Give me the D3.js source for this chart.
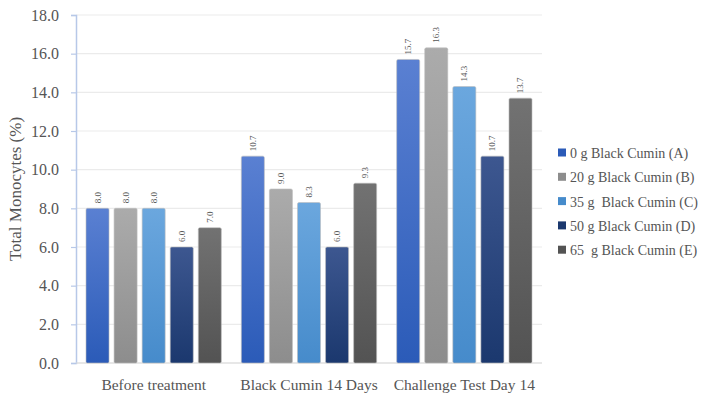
<!DOCTYPE html>
<html>
<head>
<meta charset="utf-8">
<script src="https://cdn.jsdelivr.net/npm/d3@7"></script>
<style>
  html, body { margin: 0; padding: 0; background: #fff; }
  svg text { font-family: "Liberation Serif", "Times New Roman", Tinos, "DejaVu Serif", serif; }
</style>
</head>
<body>
<svg id="chart" width="704" height="400"></svg>
<script>
const categories = ["Before treatment", "Black Cumin 14 Days", "Challenge Test Day 14"];
const seriesNames = ["0 g Black Cumin (A)", "20 g Black Cumin (B)", "35 g  Black Cumin (C)", "50 g Black Cumin (D)", "65  g Black Cumin (E)"];
const seriesA = [8.0, 10.7, 15.7];
const seriesB = [8.0, 9.0, 16.3];
const seriesC = [8.0, 8.3, 14.3];
const seriesD = [6.0, 6.0, 10.7];
const seriesE = [7.0, 9.3, 13.7];
const yTicks = [0, 2, 4, 6, 8, 10, 12, 14, 16, 18];

const seriesValues = [seriesA, seriesB, seriesC, seriesD, seriesE];
const gradStops = [
  ["#5a80d2", "#2b5bb8"],
  ["#ababab", "#8d8d8d"],
  ["#6ba7de", "#468bcb"],
  ["#3d5790", "#1b386e"],
  ["#727272", "#535353"]
];

const svg = d3.select("#chart");
const margin = { left: 76, right: 162, top: 15, bottom: 37 };
const W = 704, H = 400;

const x0 = d3.scaleBand().domain(categories).range([margin.left, W - margin.right]).paddingInner(0).paddingOuter(0);
const x1 = d3.scaleBand().domain(d3.range(seriesNames.length)).range([10, x0.bandwidth() - 10]).paddingInner(0.18).paddingOuter(0);
const y = d3.scaleLinear().domain([0, 18]).range([H - margin.bottom, margin.top]);

const defs = svg.append("defs");
gradStops.forEach((s, i) => {
  const g = defs.append("linearGradient").attr("id", "g" + i).attr("x1", 0).attr("y1", 0).attr("x2", 0).attr("y2", 1);
  g.append("stop").attr("offset", "0%").attr("stop-color", s[0]);
  g.append("stop").attr("offset", "100%").attr("stop-color", s[1]);
});

// gridlines
svg.append("g")
  .selectAll("line")
  .data(yTicks)
  .join("line")
  .attr("x1", margin.left)
  .attr("x2", W - margin.right)
  .attr("y1", d => y(d))
  .attr("y2", d => y(d))
  .attr("stroke", "#ebebeb")
  .attr("stroke-width", 1.2);

// y axis
const yAxis = d3.axisLeft(y).tickValues(yTicks).tickFormat(d3.format(".1f")).tickSize(5).tickPadding(12);
const ya = svg.append("g").attr("transform", `translate(${margin.left},0)`).call(yAxis);
ya.attr("font-family", null).attr("font-size", null);
ya.select(".domain").attr("stroke", "#b7c8e8").attr("stroke-width", 1.5);
ya.selectAll(".tick line").attr("stroke", "#b7c8e8").attr("stroke-width", 1.2);
ya.selectAll(".tick text").attr("fill", "#555").style("font-size", "16px");

// bottom baseline
svg.append("line")
  .attr("x1", margin.left).attr("x2", W - margin.right)
  .attr("y1", y(0)).attr("y2", y(0))
  .attr("stroke", "#d9d9d9").attr("stroke-width", 1.2);

// bars
const groups = svg.append("g").selectAll("g")
  .data(categories)
  .join("g")
  .attr("transform", d => `translate(${x0(d)},0)`);

groups.each(function(cat, ci) {
  const g = d3.select(this);
  seriesValues.forEach((vals, si) => {
    const v = vals[ci];
    g.append("rect")
      .attr("x", x1(si))
      .attr("y", y(v))
      .attr("width", x1.bandwidth())
      .attr("height", y(0) - y(v))
      .attr("rx", 1.5)
      .attr("fill", `url(#g${si})`)
      .attr("stroke", "#bdbdbd")
      .attr("stroke-width", 0.6);
    const cx = x1(si) + x1.bandwidth() / 2;
    const ty = y(v) - 5;
    g.append("text")
      .attr("transform", `translate(${cx + 3},${ty}) rotate(-90)`)
      .attr("text-anchor", "start")
      .style("font-size", "9px")
      .attr("fill", "#555")
      .text(d3.format(".1f")(v));
  });
});

// x axis labels
svg.append("g").selectAll("text")
  .data(categories)
  .join("text")
  .attr("x", d => x0(d) + x0.bandwidth() / 2)
  .attr("y", 390)
  .attr("text-anchor", "middle")
  .style("font-size", "15.5px")
  .attr("fill", "#555")
  .text(d => d);

// y axis title
svg.append("text")
  .attr("transform", `translate(21,${(y(0) + y(18)) / 2}) rotate(-90)`)
  .attr("text-anchor", "middle")
  .style("font-size", "17px")
  .attr("fill", "#555")
  .text("Total Monocytes (%)");

// legend
const legend = svg.append("g").attr("transform", "translate(558,153)");
seriesNames.forEach((name, i) => {
  const row = legend.append("g").attr("transform", `translate(0,${i * 24.3})`);
  row.append("rect").attr("x", 0).attr("y", -4.5).attr("width", 8).attr("height", 8).attr("fill", gradStops[i][1]);
  row.append("text").attr("x", 12).attr("y", 5)
    .style("font-size", "14px")
    .style("white-space", "pre")
    .attr("fill", "#555").text(name);
});
</script>
</body>
</html>
